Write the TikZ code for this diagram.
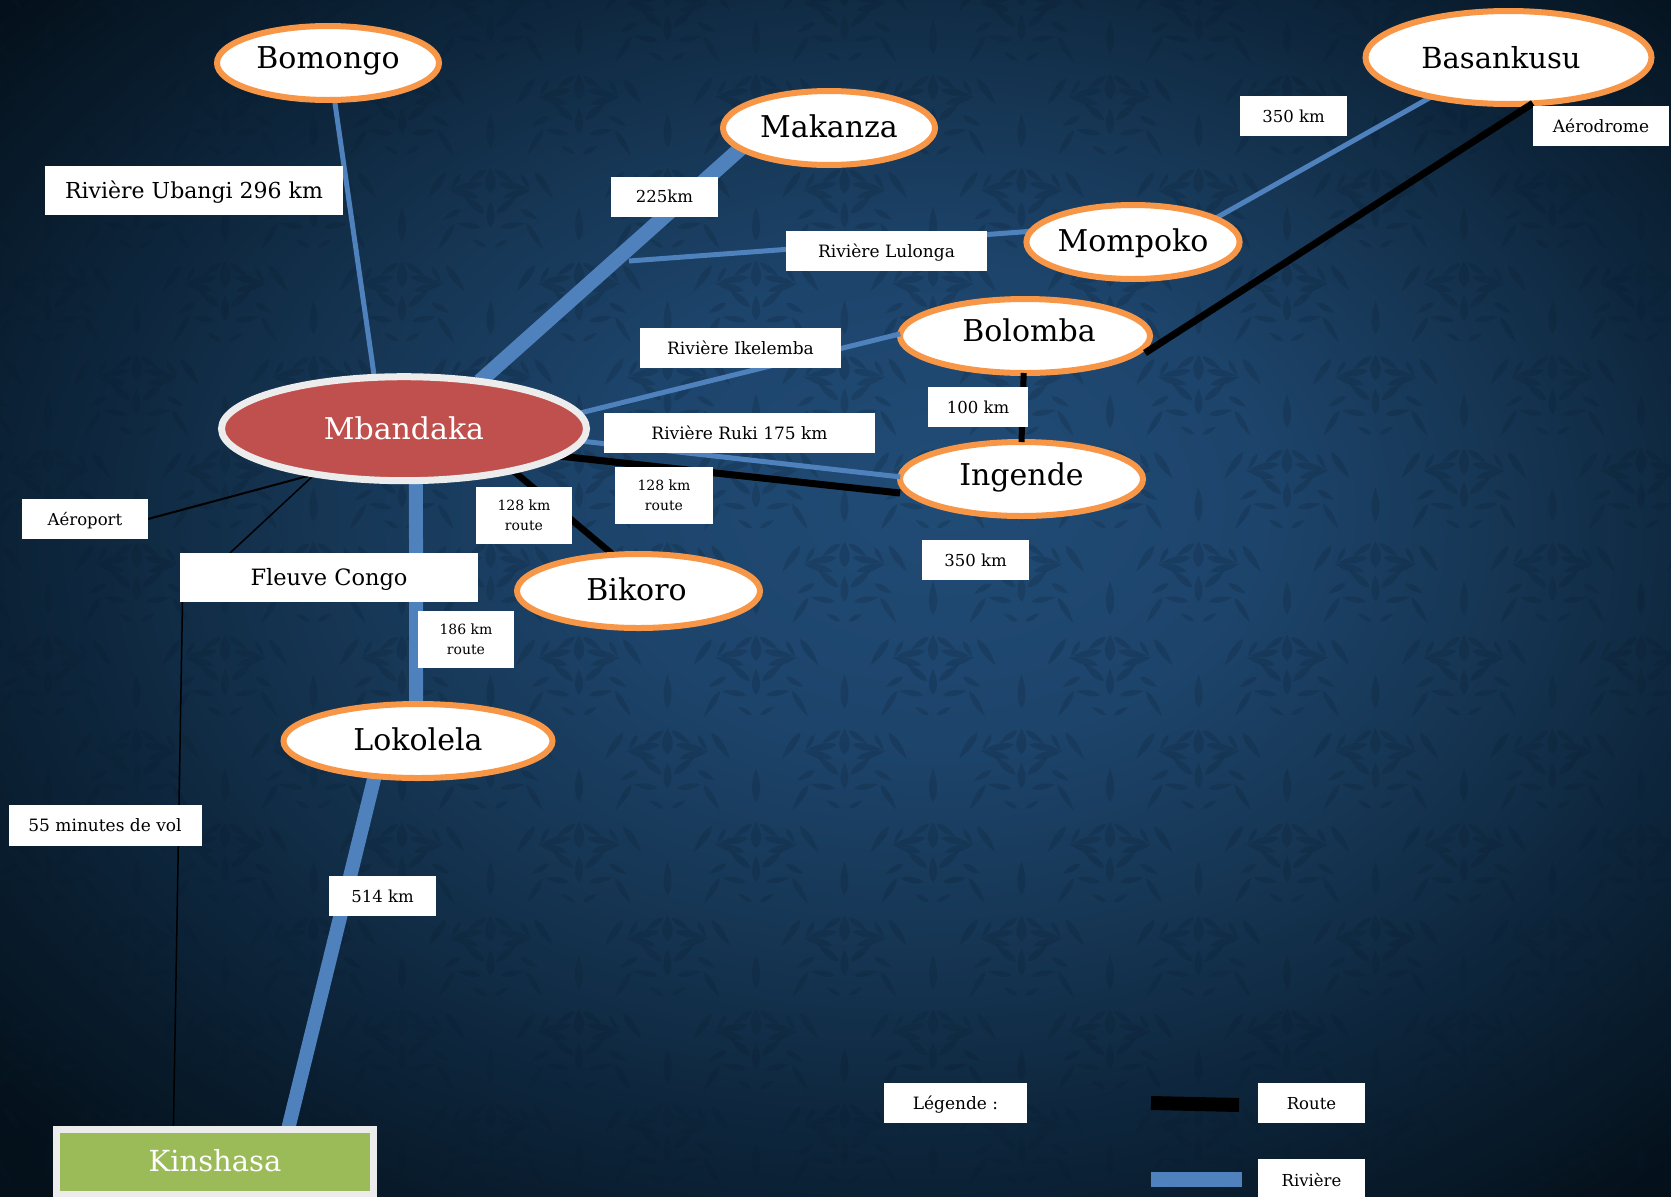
\documentclass[tikz,border=0pt]{standalone}
\usepackage{fontspec}
\setmainfont{DejaVu Serif}
\pgfdeclarelayer{bglayer}
\pgfdeclarelayer{under}
\pgfdeclarelayer{over}
\pgfdeclarelayer{hublayer}
\pgfdeclarelayer{toplayer}
\pgfsetlayers{bglayer,under,main,over,hublayer,toplayer}
\usetikzlibrary{shapes.geometric}
\definecolor{riverblue}{HTML}{4F81BD}
\definecolor{cityorange}{HTML}{F79646}
\definecolor{hubred}{HTML}{C0504D}
\definecolor{capgreen}{HTML}{9BBB59}
\definecolor{hubrim}{HTML}{ECECEC}
\definecolor{damaskdark}{HTML}{081B2D}
\definecolor{bgA}{HTML}{214C76}
\definecolor{bgB}{HTML}{1D446B}
\definecolor{bgC}{HTML}{163654}
\definecolor{bgD}{HTML}{0C2338}
\definecolor{bgE}{HTML}{04101A}
\pgfdeclareradialshading{bgshade}{\pgfpoint{3.5bp}{4.9bp}}{
  color(0bp)=(bgA); color(10bp)=(bgB); color(17.5bp)=(bgC); color(26bp)=(bgD); color(35bp)=(bgE); color(50bp)=(bgE)}
% one leaf of the wallpaper: x y rotation length width
\newcommand{\dleaf}[5]{%
  \fill[damaskdark,fill opacity=.2,shift={(#1,#2)},rotate=#3]
    (0,0) .. controls (#4*.3,#5) and (#4*.7,#5*.5) .. (#4,0)
          .. controls (#4*.7,-#5*.5) and (#4*.3,-#5) .. (0,0);}
\newcommand{\dmotif}[2]{%
  \begin{scope}[shift={(#1,#2)}]
    \dleaf{0}{-52}{90}{34}{7}
    \dleaf{0}{-6}{90}{26}{9}
    \dleaf{0}{28}{90}{26}{7}
    \foreach \dsign in {-1,1}{
      \begin{scope}[xscale=\dsign]
        \dleaf{4}{-30}{-35}{22}{5}
        \dleaf{8}{-16}{-10}{30}{6}
        \dleaf{12}{-2}{15}{30}{6}
        \dleaf{6}{14}{40}{26}{6}
        \dleaf{10}{28}{10}{24}{5}
        \dleaf{30}{-26}{-60}{18}{4}
        \dleaf{30}{10}{-30}{20}{5}
        \dleaf{44}{-28}{-55}{32}{6}
        \dleaf{36}{24}{-58}{30}{5}
        \dleaf{4}{48}{30}{16}{4}
      \end{scope}}
  \end{scope}}
\tikzset{
  x=1pt,y=-1pt,
  city/.style={ellipse,draw=cityorange,line width=6pt,fill=white,inner sep=0pt,outer sep=0pt,
    font=\fontsize{30}{30}\selectfont,text=black,text height=22pt,text depth=0pt},
  hub/.style={ellipse,draw=hubrim,line width=7pt,fill=hubred,inner sep=0pt,outer sep=0pt,
    font=\fontsize{30}{30}\selectfont,text=white,text height=22pt,text depth=0pt},
  capital/.style={rectangle,draw=hubrim,line width=7pt,fill=capgreen,inner sep=0pt,outer sep=0pt,
    font=\fontsize{29}{29}\selectfont,text=white,text height=21pt,text depth=2pt},
  tag/.style={rectangle,fill=white,inner sep=0pt,outer sep=0pt,text=black,align=center,
    font=\fontsize{16.5}{20}\selectfont,text height=12pt,text depth=0pt},
  widetag/.style={tag,font=\fontsize{17}{20}\selectfont},
  bigtag/.style={tag,font=\fontsize{22.5}{24}\selectfont,text height=16pt},
  twotag/.style={rectangle,fill=white,inner sep=0pt,outer sep=0pt,text=black,align=center,
    font=\fontsize{14}{20}\selectfont},
  river/.style={draw=riverblue,line width=5pt},
  bigriver/.style={draw=riverblue,line width=14pt},
  road/.style={draw=black,line width=6.5pt},
  thinroad/.style={draw=black,line width=1.5pt},
}
\begin{document}
\begin{tikzpicture}
\useasboundingbox (0,0) rectangle (1671,1197);
\begin{pgfonlayer}{bglayer}
  \shade[shading=bgshade] (0,0) rectangle (1671,1197);
  \begin{scope}
    \clip (0,0) rectangle (1671,1197);
    \foreach \cx in {-129,48,225,402,579,756,933,1110,1287,1464,1641}{
      \foreach \cy in {-81,106,293,480,667,854,1041,1228}{
        \dmotif{\cx}{\cy}
        \dmotif{\cx+88.5}{\cy+93.5}
      }}
  \end{scope}
\end{pgfonlayer}

% towns
\node[city,minimum width=222pt,minimum height=74pt,text depth=10.5pt] (bomongo) at (328,63) {Bomongo};
\node[city,minimum width=212pt,minimum height=74pt,text depth=4pt] (makanza) at (829,128) {Makanza};
\node[city,minimum width=286pt,minimum height=93pt,font=\fontsize{29}{29}\selectfont] (basankusu) at (1508.5,57.5) {\hspace*{-15pt}Basankusu};
\node[city,minimum width=210pt,minimum height=74pt,text depth=4pt] (mompoko) at (1133,242) {Mompoko};
\node[city,minimum width=250pt,minimum height=74pt,text depth=10.5pt] (bolomba) at (1025,336) {\hspace*{8pt}Bolomba};
\node[city,minimum width=243pt,minimum height=74pt,text depth=8.5pt] (ingende) at (1021.5,479) {Ingende};
\node[city,minimum width=243pt,minimum height=74pt,text depth=4pt] (bikoro) at (638.5,591) {\hspace*{-4pt}Bikoro};
\node[city,minimum width=269pt,minimum height=74pt,text depth=4pt] (lokolela) at (418,741) {Lokolela};
\begin{pgfonlayer}{hublayer}
\node[hub,minimum width=365pt,minimum height=104pt] (mbandaka) at (404,428.7) {Mbandaka};
\end{pgfonlayer}
\node[capital,minimum width=317pt,minimum height=65pt] (kinshasa) at (215,1162) {Kinshasa};

\begin{pgfonlayer}{toplayer}
\node[bigtag,minimum width=298pt,minimum height=49pt,font=\fontsize{22}{24}\selectfont] (ubangi) at (194,190.5) {Rivière Ubangi 296 km};
\node[tag,minimum width=126pt,minimum height=40pt] (aeroport) at (85,519) {Aéroport};
\node[bigtag,minimum width=298pt,minimum height=49pt] (congo) at (329,577.5) {Fleuve Congo};
\node[twotag,minimum width=96pt,minimum height=57pt] (bikorotag) at (524,515.5) {128 km\\route};
\node[twotag,minimum width=96pt,minimum height=57pt] (lokotag) at (466,639.5) {186 km\\route};
\node[twotag,minimum width=98pt,minimum height=57pt] (ingtag) at (664,495.5) {128 km\\route};
\node[widetag,minimum width=271pt,minimum height=40pt] (ruki) at (739.5,433) {Rivière Ruki 175 km};
\node[widetag,minimum width=201pt,minimum height=40pt] (ikelemba) at (740.5,348) {Rivière Ikelemba};
\node[widetag,minimum width=201pt,minimum height=40pt] (lulonga) at (886.5,251) {Rivière Lulonga};
\node[tag,minimum width=107pt,minimum height=40pt] (makanzatag) at (664.5,196.5) {225km};
\node[tag,minimum width=107pt,minimum height=40pt] (mompokotag) at (1293.5,116) {350 km};
\node[widetag,minimum width=136pt,minimum height=40pt] (aerodrome) at (1601,126) {Aérodrome};
\node[tag,minimum width=100pt,minimum height=40pt] (bolombatag) at (978,407) {100 km};
\node[tag,minimum width=107pt,minimum height=40pt] (ingendetag) at (975.5,560) {350 km};
\node[widetag,minimum width=193pt,minimum height=41pt] (vol) at (105,825.5) {55 minutes de vol};
\node[tag,minimum width=107pt,minimum height=40pt] (kmtag) at (382.5,896) {514 km};
\node[widetag,minimum width=143pt,minimum height=40pt] (legende) at (955.5,1103) {Légende :};
\node[tag,minimum width=107pt,minimum height=40pt] (routetag) at (1311.5,1103) {Route};
\node[tag,minimum width=107pt,minimum height=42pt] (rivieretag) at (1311.5,1180) {Rivière};
\end{pgfonlayer}

\coordinate (lulongaend) at (629,261);
\coordinate (congojoin) at (230,553);
\coordinate (flightstart) at (182.5,602);
\coordinate (bolombaroad) at (1145,353);
\coordinate (ingenderoad) at (900,493);
\coordinate (roadkeyA) at (1151,1103);
\coordinate (roadkeyB) at (1239,1105);
\coordinate (riverkeyA) at (1151,1179.5);
\coordinate (riverkeyB) at (1242,1179.5);

\begin{pgfonlayer}{under}
  \draw[river] (bomongo.-80) -- (mbandaka.120);
  \draw[bigriver,line width=15pt] (mbandaka.32.5) -- (makanza.193.4);
  \draw[bigriver] (mbandaka.-77) -- (lokolela.93);
  \draw[bigriver] (lokolela.219.3) -- (kinshasa.24.9);
  \draw[river] (lulongaend) -- (mompoko.174.6);
  \draw[river] (mompoko.16.2) -- (basankusu.207.3);
  \draw[road] (mbandaka.-21.1) -- (bikoro.125.5);
  \draw[thinroad,line width=2pt] (aeroport.east) -- (mbandaka.207.2);
  \draw[thinroad] (congojoin) -- (mbandaka.207.7);
  \draw[thinroad] (flightstart) -- (kinshasa.142.5);
\end{pgfonlayer}

\begin{pgfonlayer}{over}
  \draw[river] (mbandaka.5.3) -- (bolomba.179);
  \draw[road,line width=7pt] (mbandaka.-10.1) -- (ingenderoad);
  \draw[river] (mbandaka.-4.6) -- (ingende.179);
  \draw[road,line width=7pt] (bolombaroad) -- (basankusu.-62.7);
  \draw[road,line width=6pt] (bolomba.-92) -- (ingende.90);
  \draw[draw=black,line width=14pt] (roadkeyA) -- (roadkeyB);
  \draw[draw=riverblue,line width=15pt] (riverkeyA) -- (riverkeyB);
\end{pgfonlayer}
\end{tikzpicture}
\end{document}
